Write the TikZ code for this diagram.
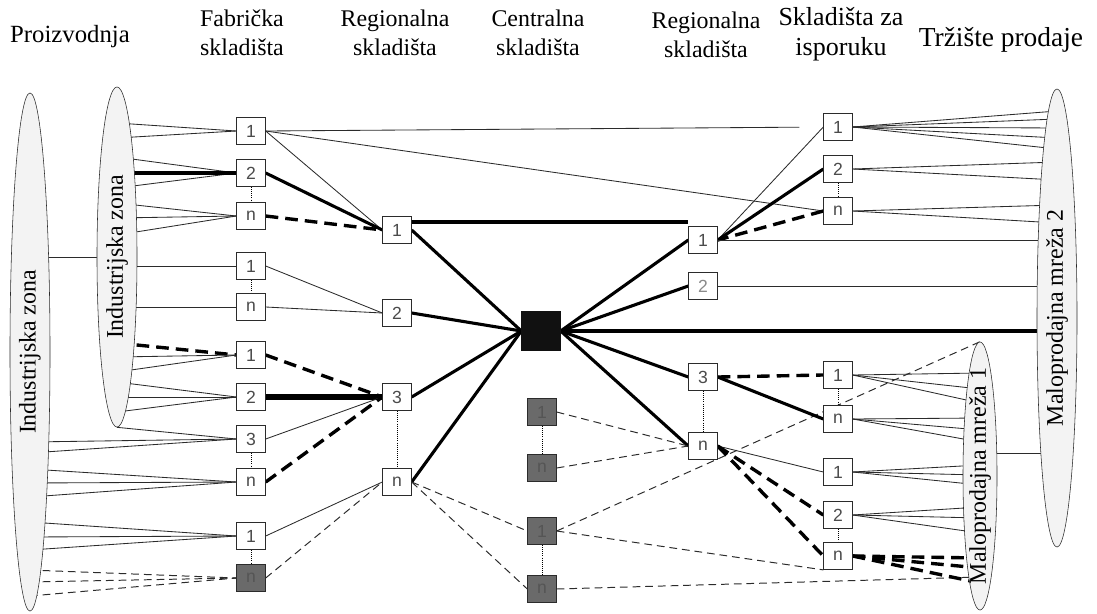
\documentclass[tikz,border=0pt]{standalone}
\usepackage{fontspec}
\setmainfont{Liberation Serif}
\setsansfont{Liberation Sans}
\usepackage{graphicx}
\usepackage{tikz}
\usepackage{xcolor}
\definecolor{ZoneGray}{HTML}{F3F3F3}
\definecolor{HubBlack}{HTML}{111111}
\definecolor{StoreGray}{HTML}{6A6A6A}
\definecolor{Ink}{HTML}{2B2B2B}
\usetikzlibrary{shapes.geometric, arrows.meta, positioning, calc, backgrounds}
\newcommand{\ztext}[1]{\rotatebox{90}{\makebox[0pt]{#1}}}

\begin{document}
\begin{tikzpicture}[x=0.025cm, y=-0.025cm,
        box/.style={rectangle, draw=Ink, fill=white, minimum width=0.72cm, minimum height=0.68cm, inner sep=0pt, text=Ink!85, font=\sffamily\fontsize{12.5}{12.5}\selectfont},
        darkbox/.style={box, fill=StoreGray, text=Ink!80},
        hubbox/.style={rectangle, draw=HubBlack, fill=HubBlack, minimum size=0.97cm, inner sep=0pt},
        zone/.style={ellipse, draw=Ink, fill=ZoneGray, inner sep=0pt, font=\fontsize{17}{20}\selectfont},
        head/.style={align=center, font=\fontsize{17}{20.5}\selectfont},
        lane/.style={line width=0.6pt, draw=Ink},
        trunk/.style={line width=2.2pt},
        mainline/.style={line width=4pt},
        hdash/.style={line width=2.4pt, dash pattern=on 9pt off 5pt},
        fdash/.style={line width=0.7pt, draw=Ink, dash pattern=on 5.5pt off 3.5pt},
        gap/.style={densely dotted, line width=0.5pt}]
        \useasboundingbox (0,0) rectangle (1097,613);

        \node (hprod) [head, font=\fontsize{17.6}{20.5}\selectfont] at (70,37) {Proizvodnja};
        \node (hfab) [head] at (242,33) {Fabrička\\skladišta};
        \node (hreg) [head] at (395,33) {Regionalna\\skladišta};
        \node (hcen) [head] at (538,33) {Centralna\\skladišta};
        \node (hreg2) [head] at (706,35) {Regionalna\\skladišta};
        \node (hdel) [head, font=\fontsize{18.5}{21}\selectfont] at (841,34) {Skladišta za\\isporuku};
        \node (hmkt) [head, font=\fontsize{19.5}{21}\selectfont] at (1001,40) {Tržište prodaje};

        \node (bigzone) [zone, minimum width=1cm, minimum height=12.95cm] at (30,352) {\ztext{Industrijska zona}};
        \node (smallzone) [zone, minimum width=1cm, minimum height=8.5cm] at (117,257) {\ztext{Industrijska zona}};
        \node (retail2) [zone, minimum width=1cm, minimum height=11.45cm] at (1057,318) {\ztext{Maloprodajna mreža 2}};
        \node (retail1) [zone, minimum width=0.85cm, minimum height=6.7cm] at (980,476) {\ztext{Maloprodajna mreža 1}};

        \node (f1a) [box] at (251,131) {1};
        \node (f2a) [box] at (251,173) {2};
        \node (fna) [box] at (251,216) {n};
        \node (f1b) [box] at (251,266) {1};
        \node (fnb) [box] at (251,307) {n};
        \node (f1c) [box] at (251,355) {1};
        \node (f2c) [box] at (251,397) {2};
        \node (f3c) [box] at (251,439) {3};
        \node (fnc) [box] at (251,482) {n};
        \node (f1d) [box] at (251,536) {1};
        \node (fnd) [darkbox] at (251,578) {n};

        \node (rl1) [box] at (397,230) {1};
        \node (rl2) [box] at (397,313) {2};
        \node (rl3) [box] at (397,397) {3};
        \node (rln) [box] at (397,482) {n};

        \node (hub) [hubbox] at (541,331) {};
        \node (g1a) [darkbox] at (542,412) {1};
        \node (gna) [darkbox] at (542,468) {n};
        \node (g1b) [darkbox] at (542,531) {1};
        \node (gnb) [darkbox] at (542,589) {n};

        \node (rr1) [box] at (703,240) {1};
        \node (rr2) [box, text=Ink!55] at (703,286) {2};
        \node (rr3) [box] at (703,377) {3};
        \node (rrn) [box] at (703,446) {n};

        \node (d1a) [box] at (838,127) {1};
        \node (d2a) [box] at (838,169) {2};
        \node (dna) [box] at (838,211) {n};
        \node (d1b) [box] at (838,375) {1};
        \node (dnb) [box] at (838,419) {n};
        \node (d1c) [box] at (838,472) {1};
        \node (d2c) [box] at (838,515) {2};
        \node (dnc) [box] at (838,556) {n};

        \coordinate (rltop) at ([yshift=0.2cm]rl1.east);

        \begin{pgfonlayer}{background}
        \foreach \a/\b in {f2a/fna, f1b/fnb, f3c/fnc, f1d/fnd, rl3/rln, g1a/gna, g1b/gnb, rr3/rrn, d2a/dna, d1b/dnb, d2c/dnc}
            \draw[gap] (\a) -- (\b);

        \draw[lane] (bigzone.center |- smallzone.center) -- (smallzone.center);
        \foreach \y in {123,138} \draw[lane] (smallzone.center |- 0,\y) -- (f1a.west);
        \foreach \y in {157,188} \draw[lane] (smallzone.center |- 0,\y) -- (f2a.west);
        \draw[trunk] (smallzone.center |- f2a.west) -- (f2a.west);
        \foreach \y in {203,218,235} \draw[lane] (smallzone.center |- 0,\y) -- (fna.west);
        \draw[lane] (smallzone.center |- f1b.west) -- (f1b.west);
        \draw[lane] (smallzone.center |- fnb.west) -- (fnb.west);
        \draw[hdash] (smallzone.center |- 0,343) -- (f1c.west);
        \foreach \y in {357,372} \draw[lane] (smallzone.center |- 0,\y) -- (f1c.west);
        \foreach \y in {382,397,412} \draw[lane] (smallzone.center |- 0,\y) -- (f2c.west);
        \draw[lane] (smallzone.south) -- (f3c.west);
        \foreach \y in {442,453} \draw[lane] (bigzone.center |- 0,\y) -- (f3c.west);
        \foreach \y in {469,483,497} \draw[lane] (bigzone.center |- 0,\y) -- (fnc.west);
        \foreach \y in {522,537,550} \draw[lane] (bigzone.center |- 0,\y) -- (f1d.west);
        \foreach \y in {570,582,596} \draw[fdash] (bigzone.center |- 0,\y) -- (fnd.west);

        \draw[lane] (f1a.east) -- (rl1.west);
        \draw[trunk] (f2a.east) -- (rl1.west);
        \draw[hdash] (fna.east) -- (rl1.west);
        \draw[lane] (f1b.east) -- (rl2.west);
        \draw[lane] (fnb.east) -- (rl2.west);
        \draw[hdash] (f1c.east) -- (rl3.west);
        \draw[mainline] (f2c.east) -- (rl3.west);
        \draw[lane] (f3c.east) -- (rl3.west);
        \draw[hdash] (fnc.east) -- (rl3.west);
        \draw[lane] (f1d.east) -- (rln.west);
        \draw[fdash] (fnd.east) -- (rln.west);
        \draw[lane] (f1a.east) -- (dna.west);
        \draw[lane, shorten >=0.6cm] (f1a.east) -- (d1a.west);

        \foreach \r in {rl1,rl2,rl3,rln} \draw[trunk] (\r.east) -- (hub.west);
        \draw[trunk] (rltop) -- (rltop -| rr1.west);
        \draw[fdash] (rln.east) -- (g1b.west);
        \draw[fdash] (rln.east) -- (gnb.west);

        \foreach \r in {rr1,rr2,rr3,rrn} \draw[trunk] (hub.east) -- (\r.west);
        \draw[trunk] (hub.east) -- (retail2.center |- hub.east);

        \draw[fdash] (g1a.east) -- (rrn.west);
        \draw[fdash] (gna.east) -- (rrn.west);
        \draw[fdash] (g1b.east) -- (retail1.north);
        \draw[fdash] (g1b.east) -- (dnc.south west);
        \draw[fdash] (gnb.east) -- (retail1.center |- 0,577);

        \draw[lane] (d1a.west) -- (rr1.east);
        \draw[trunk] (d2a.west) -- (rr1.east);
        \draw[hdash] (dna.west) -- (rr1.east);
        \draw[lane] (rr1.east) -- (retail2.center |- rr1.east);
        \draw[lane] (rr2.east) -- (retail2.center |- rr2.east);
        \draw[hdash] (rr3.east) -- (d1b.west);
        \draw[trunk] (rr3.east) -- (dnb.west);
        \draw[lane] (rrn.east) -- (d1c.west);
        \draw[hdash] (rrn.east) -- (d2c.west);
        \draw[hdash] (rrn.east) -- (dnc.west);

        \foreach \y in {111,119,128,138,149} \draw[lane] (d1a.east) -- (retail2.center |- 0,\y);
        \foreach \y in {162,180} \draw[lane] (d2a.east) -- (retail2.center |- 0,\y);
        \foreach \y in {205,223} \draw[lane] (dna.east) -- (retail2.center |- 0,\y);
        \foreach \y in {373,389,403} \draw[lane] (d1b.east) -- (retail1.center |- 0,\y);
        \foreach \y in {418,430,442} \draw[lane] (dnb.east) -- (retail1.center |- 0,\y);
        \foreach \y in {465,475,485} \draw[lane] (d1c.east) -- (retail1.center |- 0,\y);
        \foreach \y in {507,518,533} \draw[lane] (d2c.east) -- (retail1.center |- 0,\y);
        \foreach \y in {558,568,583} \draw[hdash] (dnc.east) -- (retail1.center |- 0,\y);
        \draw[lane] (retail1.center |- 0,453) -- (retail2.center |- 0,453);
        \end{pgfonlayer}
    \end{tikzpicture}
\end{document}
